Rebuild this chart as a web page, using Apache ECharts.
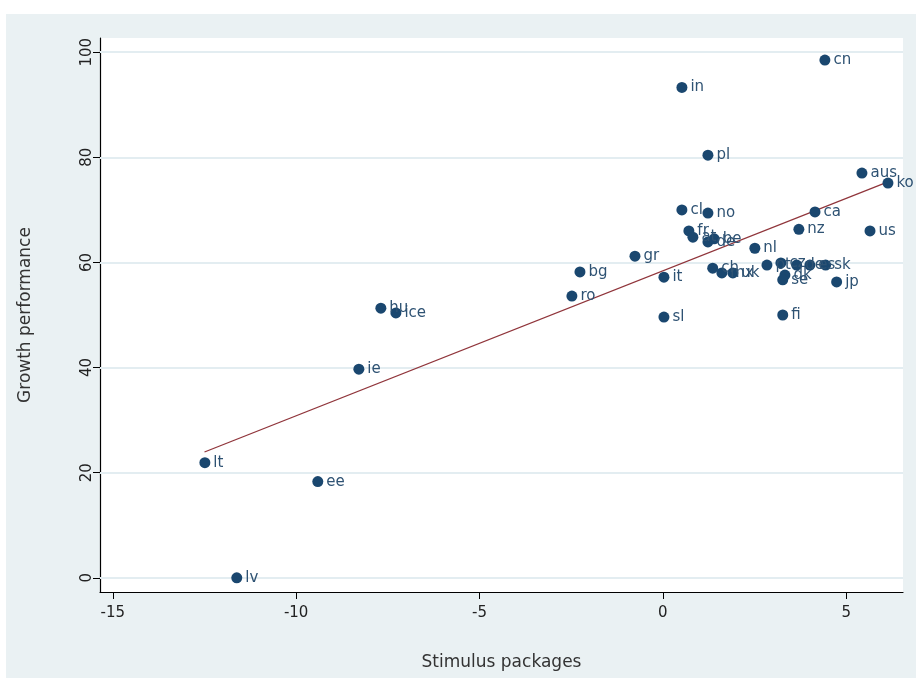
<!DOCTYPE html>
<html><head><meta charset="utf-8">
<script src="https://cdn.jsdelivr.net/npm/echarts@6/dist/echarts.min.js"></script>
<style>html,body{margin:0;padding:0;background:#fff}#c{width:916px;height:678px}</style>
</head><body><div id="c"></div>
<script>
const countries = ['cn','in','pl','aus','ko','cl','no','ca','nz','us','fr','at','de','be','nl','gr','bg','ro','it','sl','ch','mx','uk','pt','cz','dk','se','ee2','es','sk','jp','fi','hu','ice','ie','lt','ee','lv'];
const stimulus = [4.42,0.52,1.23,5.43,6.14,0.52,1.23,4.15,3.71,5.65,0.71,0.82,1.23,1.40,2.51,-0.76,-2.26,-2.48,0.03,0.03,1.36,1.61,1.91,2.84,3.22,3.33,3.27,3.65,4.01,4.44,4.74,3.27,-7.69,-7.28,-8.29,-12.49,-9.41,-11.62];
const growth = [98.5,93.3,80.4,77.0,75.1,70.0,69.4,69.6,66.3,66.0,66.0,64.8,63.9,64.5,62.7,61.2,58.2,53.6,57.2,49.6,58.9,58.0,58.0,59.5,59.9,57.6,56.7,59.5,59.5,59.5,56.3,50.0,51.3,50.4,39.7,21.9,18.3,0.0];
const pointLabels = ['cn','in','pl','aus','ko','cl','no','ca','nz','us','fr','at','de','be','nl','gr','bg','ro','it','sl','ch','mx','uk','pt','cz','dk','se','de','es','sk','jp','fi','hu','ice','ie','lt','ee','lv'];
const xTicks = [-15,-10,-5,0,5];
const yTicks = [0,20,40,60,80,100];
const fitRange = [-12.5, 6.14];
const fitIntercept = 58.4, fitSlope = 2.757;

const pts = stimulus.map((x,i)=>({value:[x,growth[i]], label:{formatter:pointLabels[i]}}));
const fit = fitRange.map(x=>[x, fitIntercept + fitSlope*x]);
const font = 'DejaVu Sans';
const chart = echarts.init(document.getElementById('c'), null, {renderer:'canvas'});
chart.setOption({
  backgroundColor:'#ffffff',
  animation:false,
  graphic:[{type:'rect', z:-10, shape:{x:6,y:14,width:910,height:664}, style:{fill:'#EAF1F3'}}],
  grid:{left:100,right:13,top:38,bottom:86,show:true,backgroundColor:'#ffffff',borderWidth:0},
  xAxis:{type:'value',min:-15.35,max:6.55,
    name:'Stimulus packages',nameLocation:'middle',nameGap:62,
    nameTextStyle:{fontFamily:font,fontSize:17,color:'#333'},
    axisLine:{show:true,onZero:false,lineStyle:{color:'#000',width:1.2}},
    axisTick:{show:true,length:7,customValues:xTicks,lineStyle:{color:'#000'}},
    axisLabel:{customValues:xTicks,fontFamily:font,fontSize:15,color:'#222',margin:14},
    splitLine:{show:false}},
  yAxis:{type:'value',min:-2.7,max:102.7,
    name:'Growth performance',nameLocation:'middle',nameGap:66,
    nameTextStyle:{fontFamily:font,fontSize:17,color:'#333'},
    axisLine:{show:true,onZero:false,lineStyle:{color:'#000',width:1.2}},
    axisTick:{show:true,length:7,customValues:yTicks,lineStyle:{color:'#000'}},
    axisLabel:{customValues:yTicks,rotate:90,fontFamily:font,fontSize:15,color:'#222',margin:5},
    splitLine:{show:false}},
  series:[
    {type:'scatter',data:[],silent:true,z:1,
     markLine:{silent:true,symbol:'none',label:{show:false},animation:false,z:1,
       lineStyle:{color:'#E3EDF1',width:2,type:'solid'},
       data:yTicks.map(v=>({yAxis:v}))}},
    {type:'line',data:fit,showSymbol:false,symbol:'none',lineStyle:{color:'#90353B',width:1.3},z:2,silent:true},
    {type:'scatter',data:pts,symbolSize:11,itemStyle:{color:'#1A476F',opacity:1},
     label:{show:true,position:'right',distance:3,offset:[0,3],fontFamily:font,fontSize:15,color:'#2E5273'},
     labelLayout:{hideOverlap:false},
     z:3}
  ]
});
</script></body></html>
